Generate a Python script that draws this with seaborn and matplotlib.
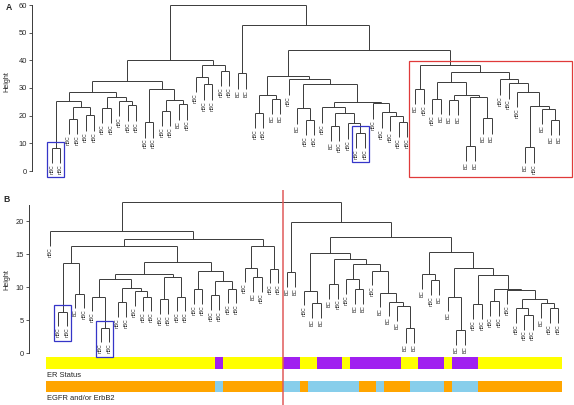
import numpy as np
import matplotlib
matplotlib.use("Agg")
import matplotlib.pyplot as plt
from matplotlib.colors import ListedColormap
from matplotlib.patches import Rectangle
import seaborn as sns

# ---- panel A: leaf labels in plotting order, and the tree as (height, left, right)
labels_a = ("nBC nBC nBC nBC nBC nBC nBC nBC nBC nBC nBC nBC nBC nBC nBC BC nBC "
            "nBC nBC nBC nBC nBC BC BC nBC nBC BC BC nBC BC nBC nBC nBC BC nBC "
            "nBC nBC nBC nBC nBC nBC nBC nBC BC nBC nBC BC BC BC BC BC BC BC "
            "nBC nBC nBC BC nBC BC BC BC").split()

a_left = (32.7,
          (28.5,
           (25.2, (8.3, 0, 1), (23.2, (18.8, 2, 3), (20.1, 4, 5))),
           (26.8, (22.9, 6, 7), (25.4, 8, (23.7, 9, 10)))),
          (29.5, (17.6, 11, 12), (25.8, (21.6, 13, 14), (24.1, 15, 16))))
a_mid = (38.4, (34.0, 17, (31.3, 18, 19)), (36.1, 20, 21))
a_pair = (35.3, 22, 23)
a_core = (34.3,
          (27.4, (21.0, 24, 25), (26.2, 26, 27)),
          (33.1, 28,
           (31.4,
            (22.6, 29, (18.6, 30, 31)),
            (25.0,
             (23.0, 32, (20.8, (16.2, 33, 34), (17.2, 35, (13.8, 36, 37)))),
             (24.4, 38, (21.2, 39, (19.9, 40, (17.8, 41, 42))))))))
a_red = (38.3,
         (29.8, 43, 44),
         (35.8,
          (32.0, (26.0, 45, 46),
           (27.4, (25.6, 47, 48), (26.6, (9.0, 49, 50), (19.0, 51, 52)))),
          (33.1, 53, (31.7, 54, (28.6, 55,
                                 (23.5, (8.5, 56, 57), (22.4, 58, (18.4, 59, 60))))))))
tree_a = (59.9, (40.0, a_left, a_mid), (52.7, a_pair, (43.7, a_core, a_red)))
blue_pairs_a = [(0, 1), (36, 37)]
red_leaves_a = (43, 60)

# ---- panel B
labels_b = ("nBC nBC nBC BC nBC nBC nBC nBC nBC nBC nBC nBC nBC nBC nBC nBC nBC "
            "nBC nBC nBC nBC nBC nBC nBC BC nBC nBC nBC BC BC nBC BC BC BC nBC "
            "nBC BC BC nBC BC BC BC BC BC BC nBC BC BC BC BC nBC nBC nBC "
            "nBC nBC nBC nBC nBC BC nBC nBC").split()

b_left = (18.5, 0,
          (17.3,
           (16.3,
            (13.7, (6.3, 1, 2), (9.0, 3, 4)),
            (13.8,
             (12.0,
              (11.2, (8.6, 5, (3.9, 6, 7)),
               (9.9, (7.7, 8, 9), (9.4, 10, (8.6, 11, 12)))),
              (11.5, (8.2, 13, 14), (8.6, 15, 16))),
             (12.4, (9.7, 17, 18), (11.0, (8.8, 19, 20), (9.8, 21, 22))))),
           (16.2, (13.0, 23, (11.5, 24, 25)), (12.8, 26, 27))))
b_right = (19.9, (12.3, 28, 29),
           (17.6,
            (15.2,
             (9.5, 30, (7.6, 31, 32)),
             (14.3, (10.5, 33, 34),
              (13.6, (11.2, 35, (9.7, 36, 37)),
               (12.5, 38, (9.2, 39, (7.8, 40, (7.1, 41, (3.8, 42, 43)))))))),
            (15.3,
             (12.0, 44, (11.1, 45, 46)),
             (13.0, (8.6, 47, (3.5, 48, 49)),
              (11.9, (7.4, 50, 51),
               (9.8, (7.9, 52, 53),
                (9.6, 54, (8.2, (6.8, 55, (5.8, 56, 57)),
                           (7.6, 58, (6.8, 59, 60))))))))))
tree_b = (23.0, b_left, b_right)
blue_pairs_b = [(1, 2), (6, 7)]
cut_b = 27.5

er_negative = [20, 28, 29, 32, 33, 34, 36, 37, 38, 39, 40, 41, 44, 45, 46, 48, 49, 50]
egfr_positive = [20, 28, 29, 31, 32, 33, 34, 35, 36, 39, 43, 44, 45, 46, 48, 49, 50]

assert len(labels_a) == 61 and len(labels_b) == 61

# ---- style
sns.set_theme(style="white")
plt.rcParams["font.family"] = ["Liberation Sans", "DejaVu Sans"]
LINE = "#3a3a3a"
W, H = 574, 405

fig = plt.figure(figsize=(W / 100, H / 100), dpi=100)


def px_axes(x0, y0, x1, y1):
    return fig.add_axes([x0 / W, 1 - y1 / H, (x1 - x0) / W, (y1 - y0) / H])


def set_limits(ax, x0, x1, top, bot, leaf0, step, zero, unit):
    ax.set_xlim((x0 - leaf0) / step, (x1 - leaf0) / step)
    ax.set_ylim((zero - bot) / unit, (zero - top) / unit)


def draw_tree(ax, node, hang, ends):
    h, left, right = node
    xs = []
    for child in (left, right):
        if isinstance(child, int):
            ax.plot([child, child], [h, h - hang], color=LINE, lw=0.7,
                    solid_capstyle="butt", clip_on=False)
            ends[child] = h - hang
            xs.append(child)
        else:
            cx = draw_tree(ax, child, hang, ends)
            ax.plot([cx, cx], [child[0], h], color=LINE, lw=0.7,
                    solid_capstyle="butt", clip_on=False)
            xs.append(cx)
    ax.plot(xs, [h, h], color=LINE, lw=0.7, solid_capstyle="butt", clip_on=False)
    return sum(xs) / 2


def pair_height(node, a, b):
    h, l, r = node
    if l == a and r == b:
        return h
    for c in (l, r):
        if not isinstance(c, int):
            found = pair_height(c, a, b)
            if found is not None:
                return found
    return None


def min_height(node):
    h, l, r = node
    sub = [min_height(c) for c in (l, r) if not isinstance(c, int)]
    return min([h] + sub)


def dendro_panel(ax, tree, labels, hang, unit, top_tick, spine_top, letter,
                 ylab_x, ylab_y):
    ends = {}
    draw_tree(ax, tree, hang, ends)
    gap = 1.2 / unit
    for i, lab in enumerate(labels):
        ax.text(i, ends[i] - gap, lab, rotation=90, ha="center", va="top",
                fontsize=3.6, color="#222222", clip_on=False)
    for s in ["top", "right", "bottom"]:
        ax.spines[s].set_visible(False)
    ax.spines["left"].set_bounds(0, spine_top)
    ax.spines["left"].set_color(LINE)
    ax.spines["left"].set_linewidth(0.7)
    ax.set_xticks([])
    ax.set_yticks(np.arange(0, top_tick + 1, 10 if top_tick > 30 else 5))
    ax.tick_params(axis="y", left=True, length=2.4, width=0.6, color=LINE,
                   labelsize=5.4, pad=1.2, direction="out")
    ax.set_ylabel("Height", fontsize=5.2)
    ax.yaxis.set_label_coords(ylab_x, ylab_y)
    ax.set_facecolor("none")
    ax.text(-0.048, 0.985 if letter == "A" else 0.975, letter, transform=ax.transAxes,
            fontsize=6.2, fontweight="bold", ha="left", va="top")


def box(ax, lo, hi, top, bottom, color, padl=0.5, padr=0.5):
    ax.add_patch(Rectangle((lo - padl, bottom), hi - lo + padl + padr, top - bottom,
                           fill=False, edgecolor=color, lw=0.9, clip_on=False, zorder=5))


# ---- panel A
unit_a = (171 - 5) / 60
ax_a = px_axes(32, 0, 574, 190)
set_limits(ax_a, 32, 574, 0, 190, 51.7, 8.46, 171, unit_a)
dendro_panel(ax_a, tree_a, labels_a, 5.5, unit_a, 60, 60, "A",
             (10.5 - 32) / 542, 0.57)
for lo, hi in blue_pairs_a:
    h = pair_height(tree_a, lo, hi)
    box(ax_a, lo, hi, h + 6.5 / unit_a, h - 29 / unit_a, "#3535c8")
box(ax_a, red_leaves_a[0], red_leaves_a[1], a_red[0] + 4.3 / unit_a,
    min_height(a_red) - 30 / unit_a, "#e03a3a", padl=0.75, padr=1.55)

# ---- panel B
unit_b = (353.3 - 221.3) / 20
ax_b = px_axes(29.3, 190, 574, 405)
set_limits(ax_b, 29.3, 574, 190, 405, 49.8, 8.47, 353.3, unit_b)
dendro_panel(ax_b, tree_b, labels_b, 2.2, unit_b, 20, 22.5, "B",
             (10.5 - 29.3) / 544.7, 0.585)
for lo, hi in blue_pairs_b:
    h = pair_height(tree_b, lo, hi)
    box(ax_b, lo, hi, h + 7 / unit_b, h - 29 / unit_b, "#3535c8", padl=0.55, padr=0.45)
ax_b.axvline(cut_b, color="#e05a5a", lw=1.1, zorder=6)
ax_b.set_zorder(3)

# colour bars under panel B, one cell per leaf
n = len(labels_b)
er = np.zeros((1, n))
er[0, er_negative] = 1
egfr = np.zeros((1, n))
egfr[0, egfr_positive] = 1
bar_x0 = 49.8 - 0.5 * 8.47
bar_x1 = 49.8 + (n - 0.5) * 8.47
for vals, cols, (y0, y1), title in [
    (er, ["#ffff00", "#a020f0"], (356.7, 369.3), "ER Status"),
    (egfr, ["#ffa500", "#87ceeb"], (380.7, 392.3), "EGFR and/or ErbB2"),
]:
    axh = px_axes(bar_x0, y0, bar_x1, y1)
    sns.heatmap(vals, ax=axh, cmap=ListedColormap(cols), vmin=0, vmax=1,
                cbar=False, xticklabels=False, yticklabels=False)
    axh.set_zorder(1)
    fig.text(47.3 / W, 1 - (y1 + 6) / H, title, fontsize=5.4, ha="left", va="center",
             color="#222222")

fig.savefig("out.png", dpi=100)
